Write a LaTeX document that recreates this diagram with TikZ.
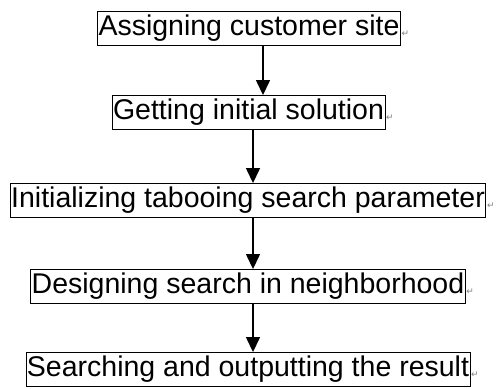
\documentclass[tikz,border=0pt]{standalone}
\usepackage{fontspec}
\setmainfont{Liberation Sans}
\newfontfamily\retfont{DejaVu Sans}
\usetikzlibrary{arrows.meta}

\tikzset{
	stage/.style={draw,line width=0.9pt,inner xsep=1pt,inner ysep=0pt,minimum height=34pt,font=\fontsize{28.5}{30}\selectfont},
	flow/.style={line width=1.4pt,-{Triangle[width=14pt,length=15pt]}},
	retmark/.style={anchor=west,inner sep=0.5pt,text=gray,font=\retfont\fontsize{9}{9}\selectfont}
}

\begin{document}
\begin{tikzpicture}[x=1pt,y=-1pt]
	\useasboundingbox (0,0) rectangle (497,388);
	% stages
	\node[stage] (b1) at (249,28.5) {Assigning customer site};
	\node[stage] (b2) at (248.5,112.5) {Getting initial solution};
	\node[stage] (b3) at (248,200.5) {Initializing tabooing search parameter};
	\node[stage] (b4) at (248,286.5) {Designing search in neighborhood};
	\node[stage] (b5) at (248,369.5) {Searching and outputting the result};
	% return marks
	\foreach \b in {b1,b2,b3,b4,b5}
		\node[retmark] (r\b) at ([yshift=12pt]\b.south east) {↵};
	% arrows
	\draw[flow] ([xshift=14pt]b1.south) -- ([xshift=14pt]b1.south |- b2.north);
	\draw[flow] ([xshift=4.5pt]b2.south) -- ([xshift=4.5pt]b2.south |- b3.north);
	\draw[flow] ([xshift=5pt]b3.south) -- ([xshift=5pt]b3.south |- b4.north);
	\draw[flow] ([xshift=5pt]b4.south) -- ([xshift=5pt]b4.south |- b5.north);
\end{tikzpicture}
\end{document}
